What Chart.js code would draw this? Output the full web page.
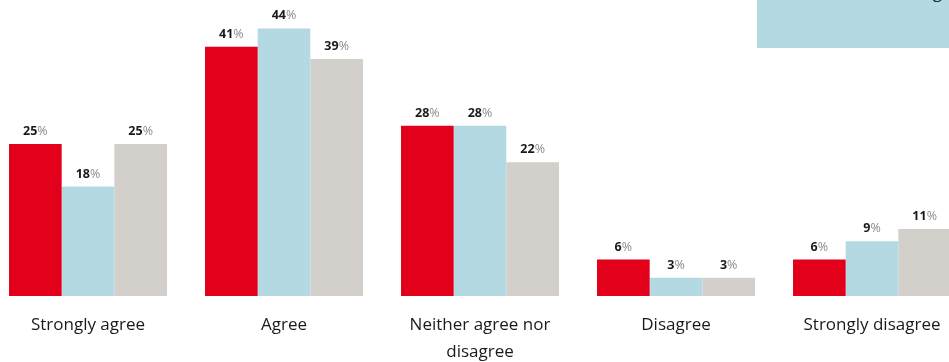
<!DOCTYPE html>
<html><head><meta charset="utf-8">
<script src="https://cdn.jsdelivr.net/npm/chart.js@4"></script>
<style>
html,body{margin:0;padding:0;background:#fff;overflow:hidden;width:949px;height:362px;position:relative}
#wrap{position:absolute;left:-10px;top:-8px;width:980px;height:370px}
#legend{position:absolute;left:757px;top:-30px;width:220px;height:78px;background:#b5d9e3;overflow:hidden}
#legend span{position:absolute;right:35px;top:13px;font:17px 'Open Sans',sans-serif;line-height:17px;color:#1a2a3a;white-space:nowrap}
</style></head>
<body>
<div id="wrap"><canvas id="c"></canvas></div>
<div id="legend"><span>Overall ranking</span></div>
<script>
const categories = ['Strongly agree', 'Agree', ['Neither agree nor', 'disagree'], 'Disagree', 'Strongly disagree'];
const seriesNames = ['Series 1', 'Series 2', 'Series 3'];
const series1 = [25, 41, 28, 6, 6];
const series2 = [18, 44, 28, 3, 9];
const series3 = [25, 39, 22, 3, 11];
const colors = ['#e2001a', '#b5d9e3', '#d3d0cb'];

const labelPlugin = {
  id: 'pctLabels',
  afterDatasetsDraw(chart) {
    const ctx = chart.ctx;
    ctx.save();
    ctx.textBaseline = 'alphabetic';
    chart.data.datasets.forEach((ds, i) => {
      const meta = chart.getDatasetMeta(i);
      meta.data.forEach((bar, j) => {
        const num = String(ds.data[j]);
        ctx.font = "bold 12.5px 'Open Sans', sans-serif";
        const w1 = ctx.measureText(num).width;
        ctx.font = "12.5px 'Open Sans', sans-serif";
        const w2 = ctx.measureText('%').width;
        const x0 = bar.x - (w1 + w2) / 2;
        const y = bar.y - 9;
        ctx.font = "bold 12.5px 'Open Sans', sans-serif";
        ctx.fillStyle = '#1a1a1a';
        ctx.textAlign = 'left';
        ctx.fillText(num, x0, y);
        ctx.font = "12.5px 'Open Sans', sans-serif";
        ctx.fillStyle = '#8a8a8a';
        ctx.fillText('%', x0 + w1, y);
      });
    });
    ctx.restore();
  }
};

new Chart(document.getElementById('c'), {
  type: 'bar',
  data: {
    labels: categories,
    datasets: [
      { label: seriesNames[0], data: series1, backgroundColor: colors[0] },
      { label: seriesNames[1], data: series2, backgroundColor: colors[1] },
      { label: seriesNames[2], data: series3, backgroundColor: colors[2] }
    ]
  },
  options: {
    responsive: true,
    maintainAspectRatio: false,
    animation: false,
    layout: { padding: 0 },
    datasets: { bar: { categoryPercentage: 0.806, barPercentage: 1.0, borderWidth: 0 } },
    plugins: { legend: { display: false }, tooltip: { enabled: false } },
    scales: {
      x: {
        grid: { display: false, drawTicks: false },
        border: { display: false },
        ticks: { color: '#1a1a1a', padding: 16, maxRotation: 0, autoSkip: false,
                 font: { family: "'Open Sans', sans-serif", size: 17, lineHeight: 1.59 } },
        afterFit(scale) { scale.height = 66; }
      },
      y: { display: false, min: 0, max: 50 }
    }
  },
  plugins: [labelPlugin]
});
</script>
</body></html>
